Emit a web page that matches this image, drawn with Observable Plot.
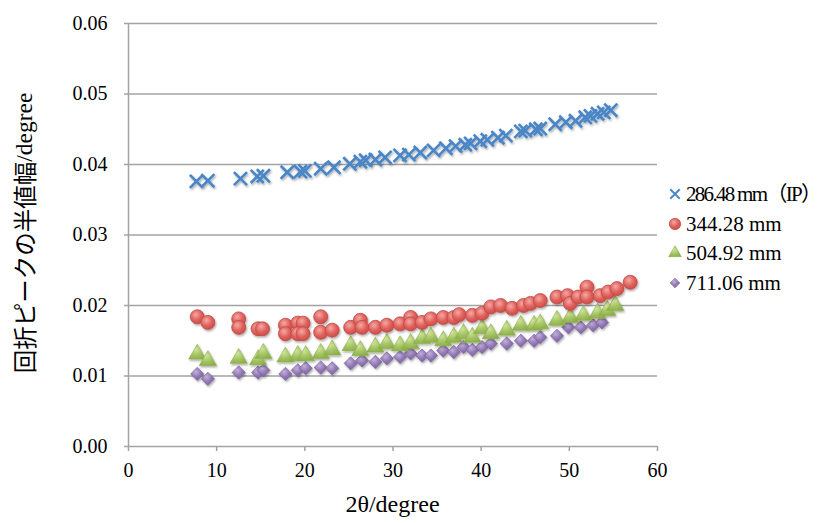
<!DOCTYPE html>
<html><head><meta charset="utf-8">
<script src="https://cdn.jsdelivr.net/npm/d3@7"></script>
<script src="https://cdn.jsdelivr.net/npm/@observablehq/plot@0.6"></script>
<style>
body{margin:0;background:#fff}
#chart{position:relative;width:827px;height:523px}
</style>
</head><body><div id="chart"></div>
<script>
// ---- data ----
const seriesNames = ["286.48 mm（IP）", "344.28 mm", "504.92 mm", "711.06 mm"];
const xTicks = [0, 10, 20, 30, 40, 50, 60];
const yTicks = [0, 0.01, 0.02, 0.03, 0.04, 0.05, 0.06];
const xTitle = "2θ/degree";
const yTitleJa = "回折ピークの半値幅";
const yTitleUnit = "/degree";

const ipX = [7.7, 9.0, 12.7, 14.6, 15.3, 18.0, 19.5, 20.0, 21.8, 23.3, 25.1, 26.3, 26.9, 28.0, 29.1, 30.8, 31.8, 33.1, 34.6, 36.0, 37.1, 38.2, 38.8, 39.9, 40.7, 41.9, 42.8, 44.5, 45.0, 46.2, 46.7, 48.4, 49.6, 50.7, 51.8, 52.4, 53.2, 53.9, 54.7];
const ipY = [0.0376, 0.0377, 0.0380, 0.0383, 0.0384, 0.0389, 0.0390, 0.0391, 0.0394, 0.0396, 0.0401, 0.0404, 0.0406, 0.0407, 0.0410, 0.0413, 0.0414, 0.0417, 0.0420, 0.0423, 0.0426, 0.0428, 0.0430, 0.0433, 0.0435, 0.0438, 0.0441, 0.0447, 0.0448, 0.0450, 0.0451, 0.0457, 0.0460, 0.0462, 0.0467, 0.0469, 0.0472, 0.0474, 0.0477];

const s344X = [7.8, 9.0, 12.5, 12.5, 14.7, 15.2, 17.8, 17.8, 19.2, 19.8, 19.2, 19.8, 21.8, 21.8, 23.1, 25.2, 26.3, 26.5, 28.0, 29.3, 30.8, 32.0, 32.0, 33.3, 34.3, 35.7, 36.9, 37.5, 39.0, 40.1, 41.1, 42.2, 43.5, 44.8, 45.6, 46.7, 48.6, 49.8, 50.1, 51.0, 52.0, 52.0, 53.5, 54.4, 55.4, 56.9];
const s344Y = [0.0184, 0.0176, 0.0181, 0.0169, 0.0167, 0.0167, 0.0172, 0.0160, 0.0175, 0.0175, 0.0160, 0.0160, 0.0184, 0.0162, 0.0165, 0.0169, 0.0179, 0.0169, 0.0169, 0.0172, 0.0174, 0.0183, 0.0174, 0.0176, 0.0181, 0.0183, 0.0183, 0.0187, 0.0186, 0.0189, 0.0198, 0.0200, 0.0196, 0.0200, 0.0203, 0.0207, 0.0212, 0.0214, 0.0203, 0.0212, 0.0226, 0.0212, 0.0214, 0.0219, 0.0224, 0.0233];

const s504X = [7.8, 9.0, 12.5, 14.7, 15.3, 17.8, 19.2, 20.1, 21.8, 23.1, 25.2, 26.3, 28.0, 29.3, 30.8, 32.0, 33.3, 34.3, 35.7, 36.9, 38.0, 39.0, 40.1, 41.1, 42.9, 44.5, 46.0, 46.7, 48.6, 50.1, 51.6, 53.2, 54.3, 55.2];
const s504Y = [0.0131, 0.0122, 0.0125, 0.0123, 0.0132, 0.0127, 0.0129, 0.0129, 0.0132, 0.0137, 0.0143, 0.0136, 0.0141, 0.0146, 0.0143, 0.0146, 0.0153, 0.0155, 0.0150, 0.0155, 0.0160, 0.0155, 0.0167, 0.0160, 0.0165, 0.0172, 0.0172, 0.0174, 0.0179, 0.0183, 0.0186, 0.0189, 0.0193, 0.0200];

const s711X = [7.8, 9.0, 12.5, 14.7, 15.3, 17.8, 19.2, 20.1, 21.8, 23.1, 25.2, 26.5, 28.0, 29.3, 30.8, 32.0, 33.3, 34.3, 35.7, 36.9, 38.0, 39.0, 40.1, 41.1, 42.9, 44.5, 46.0, 46.7, 48.6, 49.9, 51.3, 52.7, 53.7];
const s711Y = [0.0103, 0.0096, 0.0105, 0.0105, 0.0108, 0.0103, 0.0108, 0.0111, 0.0112, 0.0111, 0.0118, 0.0122, 0.0120, 0.0125, 0.0127, 0.0132, 0.0129, 0.0129, 0.0136, 0.0134, 0.0141, 0.0137, 0.0141, 0.0146, 0.0146, 0.0150, 0.0150, 0.0155, 0.0157, 0.0169, 0.0169, 0.0172, 0.0176];

// ---- build tables ----
const toRows = (xs, ys) => xs.map((x, i) => ({x, y: ys[i]}));
const ipRows = toRows(ipX, ipY);
const r344 = toRows(s344X, s344Y);
const r504 = toRows(s504X, s504Y);
const r711 = toRows(s711X, s711Y);

const serif = "'Liberation Serif', 'Times New Roman', serif";
const cjk = "'Noto Sans CJK JP', sans-serif";
const gridColor = "#a3a3a3";

const plot = Plot.plot({
  width: 827, height: 523,
  marginLeft: 128, marginRight: 170, marginTop: 23, marginBottom: 77,
  style: {fontFamily: serif, fontSize: "20px", color: "#000", background: "#fff", overflow: "visible"},
  x: {domain: [0, 60], label: null},
  y: {domain: [0, 0.06], label: null},
  marks: [
    Plot.ruleY(yTicks.slice(1), {stroke: gridColor, strokeWidth: 1.5}),
    Plot.axisX({ticks: xTicks, tickSize: 5, tickPadding: 11, stroke: gridColor, strokeWidth: 1.5, label: null, fontSize: 20}),
    Plot.axisY({ticks: yTicks, tickSize: 4, tickPadding: 17, tickFormat: d3.format(".2f"), stroke: gridColor, strokeWidth: 1.5, label: null, fontSize: 20}),
    Plot.ruleY([0], {stroke: gridColor, strokeWidth: 1.5}),
    Plot.ruleX([0], {stroke: gridColor, strokeWidth: 1.5}),
    Plot.dot(r711, {x: "x", y: "y", symbol: "diamond2", r: 6, fill: "url(#gPurple)", stroke: "#7a5f9c", strokeWidth: 0.6}),
    Plot.dot(r504, {x: "x", y: "y", symbol: "triangle", r: 6.4, fill: "url(#gGreen)", stroke: "#8fb04e", strokeWidth: 0.6}),
    Plot.dot(r344, {x: "x", y: "y", symbol: "circle", r: 7, fill: "url(#gRed)", stroke: "#bf4a45", strokeWidth: 0.8}),
    Plot.dot(ipRows, {x: "x", y: "y", symbol: "times", r: 6, stroke: "#4a86c8", strokeWidth: 2.6, fill: "none"})
  ]
});

const svg = d3.select(plot);
// make sure every axis text uses the serif face
svg.selectAll("text").style("font-family", serif);

const defs = svg.insert("defs", ":first-child");
function grad(id, c0, c1, c2) {
  const g = defs.append("radialGradient").attr("id", id).attr("cx", "40%").attr("cy", "35%").attr("r", "70%");
  g.append("stop").attr("offset", "0%").attr("stop-color", c0);
  g.append("stop").attr("offset", "55%").attr("stop-color", c1);
  g.append("stop").attr("offset", "100%").attr("stop-color", c2);
}
grad("gRed", "#f6a9a5", "#e0625d", "#c84a45");
grad("gGreen", "#cfe39b", "#a5c563", "#8cae4a");
grad("gPurple", "#c2b0d8", "#9078b4", "#7a5f9c");
const f = defs.append("filter").attr("id", "shadow").attr("x", "-30%").attr("y", "-30%").attr("width", "160%").attr("height", "160%");
f.append("feDropShadow").attr("dx", 1).attr("dy", 1.5).attr("stdDeviation", 1).attr("flood-color", "#000").attr("flood-opacity", 0.35);
svg.selectAll("g[aria-label='dot']").attr("filter", "url(#shadow)");

// axis titles
svg.append("text")
  .attr("x", 392.5).attr("y", 512)
  .attr("text-anchor", "middle")
  .style("font-family", serif).style("font-size", "24px").attr("fill", "#000")
  .text(xTitle);

const yt = svg.append("text")
  .attr("transform", "translate(24,233) rotate(-90)")
  .attr("text-anchor", "middle").attr("dominant-baseline", "central")
  .attr("fill", "#000").style("font-size", "23.5px");
yt.append("tspan").style("font-family", cjk).text(yTitleJa);
yt.append("tspan").style("font-family", serif).text(yTitleUnit);

// legend
const legendColors = [
  {sym: d3.symbolTimes, fill: "none", stroke: "#4a86c8", sw: 2, size: 60},
  {sym: d3.symbolCircle, fill: "url(#gRed)", stroke: "#bf4a45", sw: 0.8, size: 100},
  {sym: d3.symbolTriangle, fill: "url(#gGreen)", stroke: "#8fb04e", sw: 0.6, size: 70},
  {sym: d3.symbolDiamond2, fill: "url(#gPurple)", stroke: "#7a5f9c", sw: 0.6, size: 60}
];
const rowsY = [194, 224, 253, 283];
const lg = svg.append("g");
seriesNames.forEach((name, i) => {
  const c = legendColors[i];
  lg.append("path")
    .attr("transform", `translate(675,${rowsY[i]})`)
    .attr("d", d3.symbol(c.sym, c.size)())
    .attr("fill", c.fill).attr("stroke", c.stroke).attr("stroke-width", c.sw);
  const t = lg.append("text")
    .attr("x", 686).attr("y", rowsY[i])
    .attr("text-anchor", "start")
    .attr("dominant-baseline", "central")
    .style("font-family", serif + ", " + cjk).style("font-size", "21px")
    .attr("fill", "#000")
    .text(name);
  if (name.includes("（")) t.attr("textLength", 136).attr("lengthAdjust", "spacing");
});

document.getElementById("chart").appendChild(plot);
</script>
</body></html>
